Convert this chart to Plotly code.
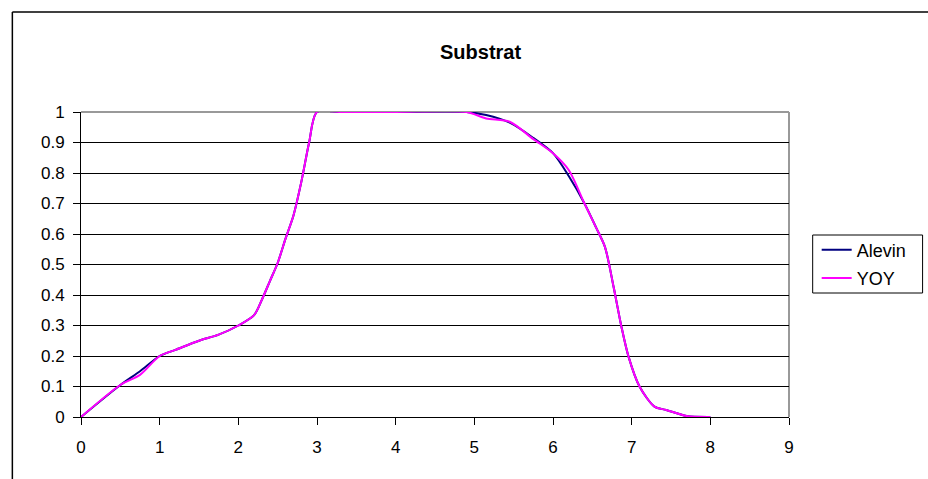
import plotly.graph_objects as go

# ---- data ----
x_vals = [0, 0.5, 0.75, 1.0, 1.2, 1.5, 1.75, 2.0, 2.2, 2.3, 2.4, 2.5, 2.6, 2.7, 2.8, 2.9, 3.0,
          3.3, 4.0, 4.9, 5.15, 5.45, 5.75, 6.0, 6.2, 6.4, 6.55, 6.66, 6.77, 6.87, 6.96, 7.1,
          7.29, 7.44, 7.7, 8.0]
alevin = [0, 0.105, 0.15, 0.2, 0.22, 0.25, 0.27, 0.3, 0.334, 0.385, 0.445, 0.505, 0.585, 0.66,
          0.77, 0.9, 1.0, 1.0, 1.0, 1.0, 0.99, 0.965, 0.915, 0.865, 0.79, 0.70, 0.62, 0.558,
          0.427, 0.296, 0.198, 0.1, 0.034, 0.023, 0.003, 0.0]
yoy = [0, 0.105, 0.138, 0.2, 0.22, 0.25, 0.27, 0.3, 0.334, 0.385, 0.445, 0.505, 0.585, 0.66,
       0.77, 0.9, 1.0, 1.0, 1.0, 1.0, 0.979, 0.968, 0.911, 0.865, 0.81, 0.70, 0.62, 0.558,
       0.427, 0.296, 0.198, 0.1, 0.034, 0.023, 0.003, 0.0]
series_names = ["Alevin", "YOY"]
series_colors = ["#000080", "#FF00FF"]
title_text = "Substrat"

FONT = "Arial, Liberation Sans, sans-serif"

fig = go.Figure()
for name, ys, col in zip(series_names, [alevin, yoy], series_colors):
    fig.add_trace(go.Scatter(
        x=x_vals, y=ys, mode="lines", name=name, legendgroup=name,
        line=dict(color=col, width=2, shape="spline", smoothing=0.8),
    ))

W, H = 928, 479
# plot area geometry in page px
L, R, T, B = 80.7, 789.3, 112, 417

def px2x(p):  # page px -> paper x
    return (p - L) / (R - L)

def px2y(p):  # page px -> paper y
    return (B - p) / (B - T)

fig.update_layout(
    width=W, height=H,
    margin=dict(l=L, r=W - R, t=T, b=H - B, pad=0),
    paper_bgcolor="white", plot_bgcolor="white",
    font=dict(family=FONT, size=17, color="black"),
    showlegend=True,
    legend=dict(
        x=px2x(817), y=px2y(231.5), xanchor="left", yanchor="top",
        borderwidth=0, bgcolor="rgba(255,255,255,0)",
        font=dict(family=FONT, size=18, color="black"),
        tracegroupgap=2, itemwidth=30,
    ),
    xaxis=dict(
        range=[0, 9], dtick=1, tick0=0, showgrid=False, zeroline=False,
        showline=True, linecolor="black", linewidth=1,
        ticks="outside", ticklen=7, tickcolor="black",
        ticklabelstandoff=8,
        tickfont=dict(family=FONT, size=17, color="black"),
        fixedrange=True,
    ),
    yaxis=dict(
        range=[0, 1], dtick=0.1, tick0=0, showgrid=True, gridcolor="black", gridwidth=1,
        zeroline=False, showline=True, linecolor="black", linewidth=1,
        ticks="outside", ticklen=7, tickcolor="black",
        ticklabelstandoff=5,
        tickfont=dict(family=FONT, size=17, color="black"),
        fixedrange=True,
    ),
    annotations=[dict(
        text="<b>" + title_text + "</b>", xref="paper", yref="paper",
        x=px2x(481), y=px2y(52), xanchor="center", yanchor="middle",
        showarrow=False, font=dict(family=FONT, size=20, color="black"),
    )],
    shapes=[
        # outer chart border (top and left edges visible)
        dict(type="line", xref="paper", yref="paper",
             x0=px2x(12), x1=px2x(940), y0=px2y(12), y1=px2y(12),
             line=dict(color="black", width=1.5), layer="above"),
        dict(type="line", xref="paper", yref="paper",
             x0=px2x(12), x1=px2x(12), y0=px2y(12), y1=px2y(490),
             line=dict(color="black", width=1.5), layer="above"),
        # legend box
        dict(type="rect", xref="paper", yref="paper",
             x0=px2x(813), x1=px2x(923), y0=px2y(293), y1=px2y(235),
             line=dict(color="black", width=1), fillcolor="rgba(255,255,255,0)", layer="above"),
        # plot area top and right borders (gray)
        dict(type="line", xref="paper", yref="paper", x0=0, x1=1, y0=1, y1=1,
             line=dict(color="#999999", width=2), layer="between"),
        dict(type="line", xref="paper", yref="paper", x0=1, x1=1, y0=0, y1=1,
             line=dict(color="#999999", width=2), layer="between"),
    ],
)

fig.write_html(
    "out.html",
    config={"displayModeBar": False, "staticPlot": False},
    post_script="document.body.style.margin='0';document.body.style.overflow='hidden';",
)
